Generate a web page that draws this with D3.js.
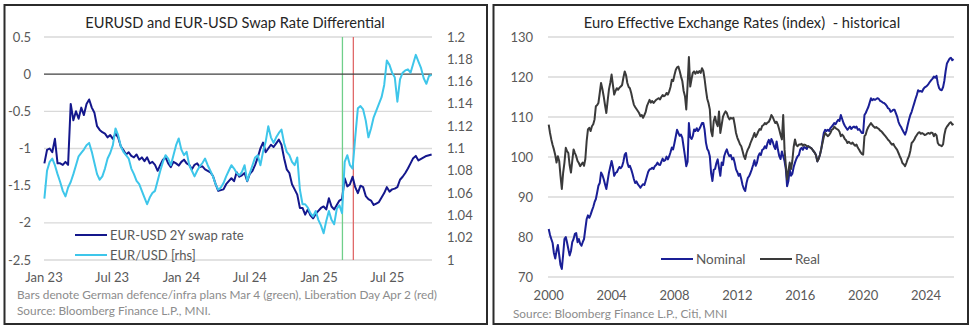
<!DOCTYPE html>
<html>
<head>
<meta charset="utf-8">
<script src="https://cdn.jsdelivr.net/npm/d3@7"></script>
<style>
  html, body { margin: 0; padding: 0; background: #fff; }
  svg { display: block; font-family: Lato, "Open Sans", sans-serif; }
</style>
</head>
<body>
<svg id="chart" width="974" height="329"></svg>
<script>
// ---------- Left panel data: weekly observations from 2 Jan 2023 ----------
const swapStart = "2023-01-02";
const swapRate = [
  -1.20, -1.02, -1.00, -1.05, -0.87, -1.20, -1.20, -1.22, -1.18, -1.22,
  -0.40, -0.62, -0.50, -0.60, -0.45, -0.55, -0.40, -0.34, -0.45, -0.52,
  -0.70, -0.75, -0.78, -0.80, -0.85, -0.82, -0.87, -0.80, -0.85, -0.97,
  -1.02, -1.08, -1.05, -1.10, -1.12, -1.08, -1.15, -1.12, -1.17, -1.12,
  -1.20, -1.18, -1.22, -1.30, -1.22, -1.15, -1.12, -1.20, -1.25, -1.18,
  -1.20, -1.23, -1.18, -1.15, -1.20, -1.22, -1.28, -1.22, -1.20, -1.25,
  -1.24, -1.28, -1.30, -1.32, -1.37, -1.48, -1.57, -1.56, -1.55, -1.48,
  -1.44, -1.40, -1.44, -1.32, -1.38, -1.36, -1.33, -1.44, -1.34, -1.30,
  -1.22, -1.12, -1.00, -0.92, -1.05, -1.00, -0.95, -0.98, -0.93, -0.88,
  -0.95, -1.13, -1.28, -1.33, -1.48, -1.55, -1.62, -1.80, -1.80, -1.89,
  -1.82, -1.90, -1.94, -1.88, -1.84, -1.80, -1.78, -1.82, -1.67, -1.78,
  -1.82, -1.76, -1.70, -1.68, -1.40, -1.51, -1.48, -1.38, -1.52, -1.60,
  -1.50, -1.52, -1.64, -1.68, -1.70, -1.76, -1.74, -1.72, -1.66, -1.60,
  -1.52, -1.58, -1.55, -1.54, -1.52, -1.42, -1.38, -1.33, -1.27, -1.20,
  -1.13, -1.10, -1.16, -1.14, -1.12, -1.10, -1.09, -1.08
];
const eurUsd = [
  1.055, 1.080, 1.088, 1.091, 1.085, 1.077, 1.070, 1.062, 1.057, 1.065,
  1.070, 1.077, 1.085, 1.093, 1.096, 1.099, 1.103, 1.105, 1.097, 1.087,
  1.077, 1.072, 1.075, 1.082, 1.091, 1.096, 1.103, 1.118, 1.112, 1.102,
  1.097, 1.094, 1.091, 1.082, 1.077, 1.071, 1.068, 1.062, 1.056, 1.050,
  1.056, 1.060, 1.062, 1.071, 1.080, 1.088, 1.094, 1.091, 1.085, 1.094,
  1.103, 1.109, 1.099, 1.094, 1.097, 1.085, 1.080, 1.075, 1.080, 1.084,
  1.087, 1.091, 1.085, 1.080, 1.075, 1.068, 1.063, 1.065, 1.069, 1.075,
  1.080, 1.085, 1.082, 1.078, 1.076, 1.079, 1.085, 1.071, 1.078, 1.085,
  1.092, 1.094, 1.085, 1.097, 1.106, 1.120, 1.110, 1.105, 1.110, 1.114,
  1.117, 1.105, 1.097, 1.094, 1.088, 1.085, 1.092, 1.063, 1.050, 1.050,
  1.047, 1.042, 1.039, 1.044, 1.036, 1.031, 1.024, 1.035, 1.044, 1.036,
  1.032, 1.046, 1.049, 1.042, 1.088, 1.094, 1.085, 1.082, 1.110, 1.136,
  1.138, 1.135, 1.125, 1.110, 1.118, 1.128, 1.134, 1.140, 1.146, 1.157,
  1.179, 1.175, 1.168, 1.164, 1.142, 1.162, 1.168, 1.170, 1.171, 1.168,
  1.176, 1.184, 1.178, 1.172, 1.163, 1.158, 1.165, 1.166
];
const leftTicks = [0.5, 0, -0.5, -1, -1.5, -2, -2.5];
const rightTicks = [1.2, 1.18, 1.16, 1.14, 1.12, 1.1, 1.08, 1.06, 1.04, 1.02, 1];
const monthTicks = ["2023-01-01", "2023-07-01", "2024-01-01", "2024-07-01", "2025-01-01", "2025-07-01"];
const eventDates = ["2025-03-04", "2025-04-02"];
const eventColors = ["#6fcf8a", "#e06a6a"];

// ---------- Right panel data: monthly index levels from Jan 2000 ----------
const eerStart = "2000-01-01";
const nominal = [
  82.0, 80.5, 79.5, 78.5, 76.0, 74.6, 76.5, 78.0, 75.5, 73.0, 72.0, 75.5,
  79.5, 80.0, 78.7, 77.0, 75.4, 76.5, 78.7, 79.5, 80.8, 81.0, 78.7, 79.5,
  78.3, 77.8, 78.7, 79.5, 82.0, 84.5, 85.4, 84.8, 85.6, 86.6, 87.5, 88.7,
  89.5, 91.2, 92.8, 93.5, 96.1, 95.5, 94.5, 93.2, 92.0, 94.0, 96.1, 97.5,
  99.0, 97.5, 95.3, 96.0, 96.2, 96.9, 97.5, 97.2, 97.7, 98.8, 100.6, 101.0,
  98.6, 97.5, 97.8, 96.9, 95.8, 94.5, 93.5, 93.9, 93.2, 92.8, 92.3, 92.8,
  93.2, 93.0, 94.0, 95.2, 96.3, 96.9, 97.0, 97.3, 97.0, 97.7, 98.0, 98.6,
  98.1, 98.0, 98.8, 99.6, 99.0, 99.2, 100.1, 99.4, 100.2, 101.2, 102.4, 101.9,
  103.5, 105.2, 106.8, 106.0, 105.3, 105.6, 104.8, 102.5, 100.2, 97.7, 98.8, 108.5,
  105.0, 104.5, 105.2, 106.9, 106.5, 107.2, 106.5, 107.0, 107.7, 108.5, 108.5, 106.8,
  103.6, 102.0, 101.5, 100.2, 96.0, 94.0, 96.8, 97.0, 98.5, 99.4, 97.2, 95.3,
  98.6, 98.0, 100.2, 101.2, 101.9, 100.8, 100.2, 100.5, 99.4, 99.8, 98.5, 96.9,
  96.2, 95.3, 95.8, 94.5, 93.0, 92.0, 91.5, 93.5, 94.8, 95.2, 96.0, 96.9,
  98.0, 99.2, 97.8, 98.6, 100.2, 100.9, 100.5, 101.8, 102.0, 102.7, 102.2, 103.5,
  104.3, 103.2, 104.5, 103.8, 102.7, 102.0, 103.9, 101.8, 100.2, 99.5, 101.4, 100.2,
  99.0, 96.9, 92.7, 94.0, 96.9, 95.3, 95.8, 97.5, 98.6, 99.5, 100.2, 100.5,
  101.9, 102.3, 101.8, 102.5, 102.3, 102.0, 102.7, 102.5, 102.3, 102.0, 101.5, 101.1,
  100.5, 98.9, 99.5, 100.5, 101.9, 104.0, 106.0, 106.8, 106.5, 106.8, 106.5, 107.2,
  107.6, 108.0, 108.5, 108.2, 108.8, 109.3, 109.0, 110.5, 109.5, 108.5, 107.8, 107.3,
  106.8, 107.2, 107.6, 107.0, 107.4, 107.6, 107.3, 107.6, 106.8, 107.0, 106.5, 106.0,
  106.0, 110.5, 111.0, 111.8, 112.5, 113.6, 114.7, 114.2, 114.5, 114.3, 114.5, 114.7,
  114.5, 114.0, 113.9, 113.6, 113.5, 113.2, 112.8, 112.2, 112.0, 111.3, 111.5, 111.8,
  111.8, 110.9, 110.1, 108.8, 108.0, 107.5, 106.8, 106.2, 105.6, 106.5, 108.0, 109.3,
  110.5, 111.3, 112.3, 113.4, 114.5, 115.5, 116.7, 116.4, 116.5, 116.3, 117.0, 117.4,
  117.6, 117.9, 118.3, 118.8, 119.2, 119.6, 120.1, 119.8, 120.3, 118.4, 117.2, 116.8,
  116.7, 117.5, 119.0, 121.5, 123.4, 124.0, 124.6, 124.8, 124.2, 124.5
];
const real = [
  108.1, 106.0, 104.4, 103.0, 101.9, 100.5, 98.6, 100.2, 99.0, 95.3, 92.0, 96.0,
  98.6, 102.3, 101.5, 101.0, 98.0, 96.1, 99.0, 101.9, 101.0, 100.2, 99.0, 98.5,
  97.7, 98.2, 98.6, 97.8, 99.5, 104.0, 106.9, 107.3, 106.5, 107.7, 108.2, 109.4,
  112.7, 113.0, 113.5, 116.0, 118.5, 117.0, 115.2, 113.0, 111.0, 114.0, 116.9, 118.5,
  120.6, 118.0, 115.6, 116.5, 117.2, 116.8, 117.3, 117.6, 118.0, 119.8, 121.4, 120.5,
  118.5, 117.5, 117.2, 116.0, 114.5, 113.1, 112.5, 112.0, 111.5, 111.0, 110.2, 110.5,
  109.8, 110.5, 111.2, 112.7, 113.5, 114.3, 113.6, 114.0, 113.5, 113.9, 114.3, 114.5,
  114.7, 114.4, 115.0, 115.5, 115.2, 115.4, 116.0, 115.6, 116.4, 117.5, 119.3, 119.0,
  120.5, 121.8, 122.4, 122.6, 121.5, 120.1, 119.0, 116.5, 115.2, 111.9, 118.0, 125.0,
  117.6, 119.5, 121.0, 121.4, 120.8, 121.4, 121.0, 121.5, 121.0, 122.2, 121.5, 119.5,
  116.8, 114.5, 113.5, 111.9, 106.5, 105.2, 109.0, 110.1, 108.5, 107.7, 111.4, 106.0,
  108.0, 110.1, 110.8, 111.4, 111.0, 110.0, 109.4, 109.8, 109.6, 109.8, 108.0, 106.0,
  104.8, 104.0, 103.2, 102.7, 101.5, 100.2, 99.5, 101.0, 101.9, 102.5, 103.5, 104.3,
  105.1, 106.0, 105.0, 105.6, 106.4, 107.0, 106.8, 107.8, 108.0, 108.5, 108.2, 108.6,
  108.8, 109.5, 110.5, 110.0, 109.2, 108.5, 108.8, 108.0, 106.8, 105.5, 104.4, 110.5,
  101.9, 97.7, 94.4, 96.5, 98.6, 97.0, 99.0, 102.5, 104.4, 103.0, 102.7, 103.1,
  103.1, 103.3, 102.8, 103.1, 103.0, 102.7, 102.7, 102.5, 102.3, 102.0, 101.5, 101.1,
  100.4, 98.9, 99.5, 100.5, 101.9, 103.5, 105.0, 106.0, 105.6, 105.2, 105.5, 106.0,
  106.8, 107.0, 107.6, 107.2, 107.0, 106.8, 106.3, 105.2, 105.6, 105.2, 104.5, 104.2,
  103.5, 103.8, 103.5, 103.3, 103.6, 103.1, 102.8, 103.1, 102.3, 101.8, 101.2, 100.8,
  100.6, 105.2, 105.6, 106.8, 107.5, 108.0, 108.5, 108.0, 107.6, 107.3, 107.5, 107.2,
  107.0, 106.6, 106.4, 106.0, 105.6, 105.2, 104.8, 104.3, 104.0, 103.5, 103.1, 103.3,
  102.7, 102.2, 101.8, 101.0, 100.2, 99.5, 98.5, 98.2, 97.7, 98.5, 99.5, 100.2,
  101.5, 103.5, 103.8, 104.3, 105.0, 105.5, 106.0, 106.2, 105.8, 106.0, 105.8, 105.5,
  105.6, 105.9, 106.0, 105.8, 106.1, 106.0, 105.2, 105.8, 105.4, 103.5, 103.0, 102.9,
  102.7, 103.2, 105.5, 107.0, 107.6, 108.0, 108.5, 108.7, 108.1, 108.3
];
const eerTicks = [70, 80, 90, 100, 110, 120, 130];
const yearTicks = [2000, 2004, 2008, 2012, 2016, 2020, 2024];

// ---------- Styles ----------
const C = {
  frame: "#2b2b2b", grid: "#d9d9d9", zero: "#404040", tick: "#595959",
  note: "#8c8c8c", title: "#262626",
  swap: "#14178c", fx: "#3ec6ea", nominal: "#1a1f96", real: "#3a3a3a"
};

const svg = d3.select("#chart");
const parse = d3.timeParse("%Y-%m-%d");

function frame(x0, x1) {
  svg.append("rect").attr("x", x0).attr("y", 5).attr("width", x1 - x0).attr("height", 319)
    .attr("fill", "none").attr("stroke", C.frame).attr("stroke-width", 2);
}
function label(g, x, y, text, opts = {}) {
  return g.append("text").attr("x", x).attr("y", y).attr("dy", "0.35em")
    .attr("text-anchor", opts.anchor || "middle")
    .attr("font-size", opts.size || 13)
    .attr("fill", opts.color || C.tick)
    .text(text);
}

// ================= Left panel =================
frame(4.5, 487);
const L = svg.append("g");
const t0 = parse(swapStart);
const swapDates = swapRate.map((_, i) => d3.timeDay.offset(t0, 7 * i));
const xL = d3.scaleTime().domain([new Date(2023, 0, 1), new Date(2025, 9, 28)]).range([44, 432]);
const yL = d3.scaleLinear().domain([-2.5, 0.5]).range([260, 37]);
const yR = d3.scaleLinear().domain([1.0, 1.2]).range([260, 37]);

L.append("g").selectAll("line").data(leftTicks.filter(d => d !== 0)).join("line")
  .attr("x1", 44).attr("x2", 432).attr("y1", d => yL(d)).attr("y2", d => yL(d))
  .attr("stroke", C.grid).attr("stroke-width", 1.3);

L.append("g").selectAll("line").data(eventDates).join("line")
  .attr("x1", d => xL(parse(d))).attr("x2", d => xL(parse(d)))
  .attr("y1", yL(0.5)).attr("y2", yL(-2.5))
  .attr("stroke", (d, i) => eventColors[i]).attr("stroke-width", 1.3);

L.append("line").attr("x1", 44).attr("x2", 432).attr("y1", yL(0)).attr("y2", yL(0))
  .attr("stroke", C.zero).attr("stroke-width", 1.4);

const swapLine = d3.line().x((d, i) => xL(swapDates[i])).y(d => yL(d));
const fxLine = d3.line().x((d, i) => xL(swapDates[i])).y(d => yR(d));
L.append("path").datum(swapRate).attr("d", swapLine)
  .attr("fill", "none").attr("stroke", C.swap).attr("stroke-width", 2).attr("stroke-linejoin", "round");
L.append("path").datum(eurUsd).attr("d", fxLine)
  .attr("fill", "none").attr("stroke", C.fx).attr("stroke-width", 2).attr("stroke-linejoin", "round");

leftTicks.forEach(d => label(L, 31, yL(d), d, { anchor: "end" }));
rightTicks.forEach(d => label(L, 447, yR(d), d, { anchor: "start" }));
const fmtMonth = d3.timeFormat("%b %y");
monthTicks.forEach(d => label(L, xL(parse(d)), 277, fmtMonth(parse(d))));

label(L, 235, 23, "EURUSD and EUR-USD Swap Rate Differential", { size: 14.6, color: C.title });

// legend
[["EUR-USD 2Y swap rate", C.swap, 235], ["EUR/USD [rhs]", C.fx, 255]].forEach(([t, c, y]) => {
  L.append("line").attr("x1", 75).attr("x2", 107).attr("y1", y).attr("y2", y)
    .attr("stroke", c).attr("stroke-width", 2);
  label(L, 110, y, t, { anchor: "start", size: 13 });
});

label(L, 17, 295, "Bars denote German defence/infra plans Mar 4 (green), Liberation Day Apr 2 (red)",
  { anchor: "start", size: 11.8, color: C.note });
label(L, 17, 311, "Source: Bloomberg Finance L.P., MNI.", { anchor: "start", size: 11.8, color: C.note });

// ================= Right panel =================
frame(493.5, 968);
const R = svg.append("g");
const e0 = parse(eerStart);
const eerDates = nominal.map((_, i) => d3.timeMonth.offset(e0, i));
const xE = d3.scaleTime().domain([new Date(2000, 0, 1), new Date(2025, 9, 12)]).range([548.7, 954]);
const yE = d3.scaleLinear().domain([70, 130]).range([277, 37]);

R.append("g").selectAll("line").data(eerTicks).join("line")
  .attr("x1", 548).attr("x2", 954).attr("y1", d => yE(d)).attr("y2", d => yE(d))
  .attr("stroke", C.grid).attr("stroke-width", 1.3);

const eerLine = d3.line().x((d, i) => xE(eerDates[i])).y(d => yE(d));
R.append("path").datum(nominal).attr("d", eerLine)
  .attr("fill", "none").attr("stroke", C.nominal).attr("stroke-width", 2).attr("stroke-linejoin", "round");
R.append("path").datum(real).attr("d", eerLine)
  .attr("fill", "none").attr("stroke", C.real).attr("stroke-width", 2).attr("stroke-linejoin", "round");

eerTicks.forEach(d => label(R, 533, yE(d), d, { anchor: "end" }));
yearTicks.forEach(d => label(R, xE(new Date(d, 0, 1)), 295, d));

label(R, 742, 23, "Euro Effective Exchange Rates (index)  - historical", { size: 14.7, color: C.title })
  .style("white-space", "pre");

[["Nominal", C.nominal, 661], ["Real", C.real, 760]].forEach(([t, c, x]) => {
  R.append("line").attr("x1", x).attr("x2", x + 32).attr("y1", 259).attr("y2", 259)
    .attr("stroke", c).attr("stroke-width", 2);
  label(R, x + 35, 259, t, { anchor: "start", size: 13.5 });
});

label(R, 513, 314, "Source: Bloomberg Finance L.P., Citi, MNI", { anchor: "start", size: 11.8, color: C.note });
</script>
</body>
</html>
